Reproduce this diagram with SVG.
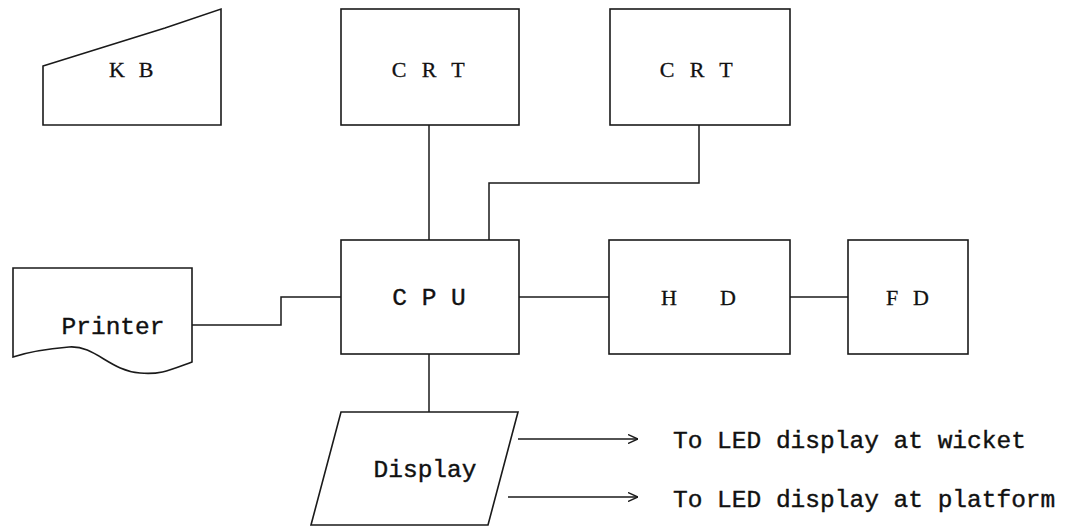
<svg xmlns="http://www.w3.org/2000/svg" width="1072" height="526" viewBox="0 0 1072 526">
<style>
.s{fill:#fff;stroke:#1a1a1a;stroke-width:1.6}
.c{fill:none;stroke:#1a1a1a;stroke-width:1.5}
.m{font-family:"Liberation Mono","DejaVu Sans Mono",monospace;font-size:24.5px;fill:#111;stroke:#111;stroke-width:0.4}
.r{font-family:"Liberation Serif","DejaVu Serif",serif;font-size:22px;fill:#111;text-anchor:middle;stroke:#111;stroke-width:0.3}
.mc{text-anchor:middle}
</style>
<defs>
<marker id="ah" viewBox="0 0 10 10" refX="10" refY="5" markerWidth="10" markerHeight="10" markerUnits="userSpaceOnUse" orient="auto">
<path d="M0,0.5 L10,5 L0,9.5" fill="none" stroke="#1a1a1a" stroke-width="1.4"/>
</marker>
</defs>
<rect width="1072" height="526" fill="#fff"/>
<g id="connectors">
<path class="c" d="M429,125 V240"/>
<path class="c" d="M699,125 V183 H489 V240"/>
<path class="c" d="M192,325 H281 V297 H341"/>
<path class="c" d="M519,297 H609"/>
<path class="c" d="M790,297 H848"/>
<path class="c" d="M429,354 V412"/>
<path class="c" d="M518,439 H638" marker-end="url(#ah)"/>
<path class="c" d="M508,497 H638" marker-end="url(#ah)"/>
</g>
<g id="kb">
<path class="s" d="M43,66 L165,28 L221,9 V125 H43 Z"/>
<text class="r" x="117 146" y="77">KB</text>
</g>
<g id="crt1">
<rect class="s" x="341" y="9" width="178" height="116"/>
<text class="r" x="399 429 458" y="77">CRT</text>
</g>
<g id="crt2">
<rect class="s" x="610" y="9" width="180" height="116"/>
<text class="r" x="667 697 726" y="77">CRT</text>
</g>
<g id="printer">
<path class="s" d="M13,268 H192 V362 C170,370 160,375 140,373 C110,371 95,345 69,347 C45,349 25,353 13,357 Z"/>
<text class="m mc" x="113" y="334">Printer</text>
</g>
<g id="cpu">
<rect class="s" x="341" y="240" width="178" height="114"/>
<text class="m mc" x="429" y="305">C P U</text>
</g>
<g id="hd">
<rect class="s" x="609" y="240" width="181" height="114"/>
<text class="r" x="669 728" y="305">HD</text>
</g>
<g id="fd">
<rect class="s" x="848" y="240" width="120" height="114"/>
<text class="r" x="892 921" y="305">FD</text>
</g>
<g id="display">
<path class="s" d="M341,412 H518 L488,525 H311 Z"/>
<text class="m mc" x="425" y="477">Display</text>
</g>
<g id="labels">
<text class="m" x="673" y="448">To LED display at wicket</text>
<text class="m" x="673" y="507">To LED display at platform</text>
</g>
</svg>
